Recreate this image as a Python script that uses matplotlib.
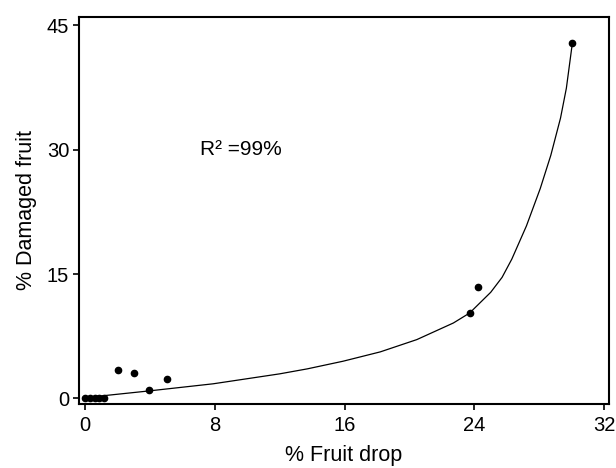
import matplotlib.pyplot as plt

plt.rcParams['font.family'] = ['Liberation Sans', 'DejaVu Sans']

# observed points (% fruit drop, % damaged fruit)
drop = [0.0, 0.3, 0.6, 0.9, 1.2, 2.05, 3.0, 3.97, 5.03, 23.7, 24.2, 30.0]
damaged = [0.0, 0.0, 0.0, 0.0, 0.0, 3.4, 3.1, 1.0, 2.4, 10.3, 13.4, 42.8]

# fitted curve
curve_x = [0.0, 3.8, 7.9, 12.0, 13.7, 15.9, 18.2, 20.45, 22.7, 23.7, 25.0,
           25.7, 26.3, 27.2, 28.05, 28.7, 29.3, 29.66, 30.0]
curve_y = [0.1, 0.88, 1.77, 2.97, 3.57, 4.49, 5.62, 7.1, 9.1, 10.3, 12.8,
           14.6, 16.8, 20.8, 25.3, 29.3, 33.8, 37.4, 42.4]

x_ticks = [0, 8, 16, 24, 32]
y_ticks = [0, 15, 30, 45]

fig = plt.figure(figsize=(6.16, 4.68), dpi=100)
ax = fig.add_axes([0.128, 0.137, 0.861, 0.827])

ax.plot(curve_x, curve_y, color='black', lw=0.9)
ax.plot(drop, damaged, 'o', color='black', ms=4.5)

ax.set_xlim(-0.37, 32.3)
ax.set_ylim(-0.65, 46.0)
ax.set_xticks(x_ticks)
ax.set_yticks(y_ticks)
ax.tick_params(direction='out', length=4, width=1.2, labelsize=14.5,
               top=False, right=False)
ax.tick_params(axis='x', pad=5)
ax.tick_params(axis='y', pad=3)

for s in ax.spines.values():
    s.set_linewidth(1.5)

ax.set_xlabel('% Fruit drop', fontsize=15.5, labelpad=7)
ax.set_ylabel('% Damaged fruit', fontsize=15.5, labelpad=7)

ax.text(7.1, 30, 'R² =99%', fontsize=15, ha='left', va='center')

fig.savefig('out.png', dpi=100)
